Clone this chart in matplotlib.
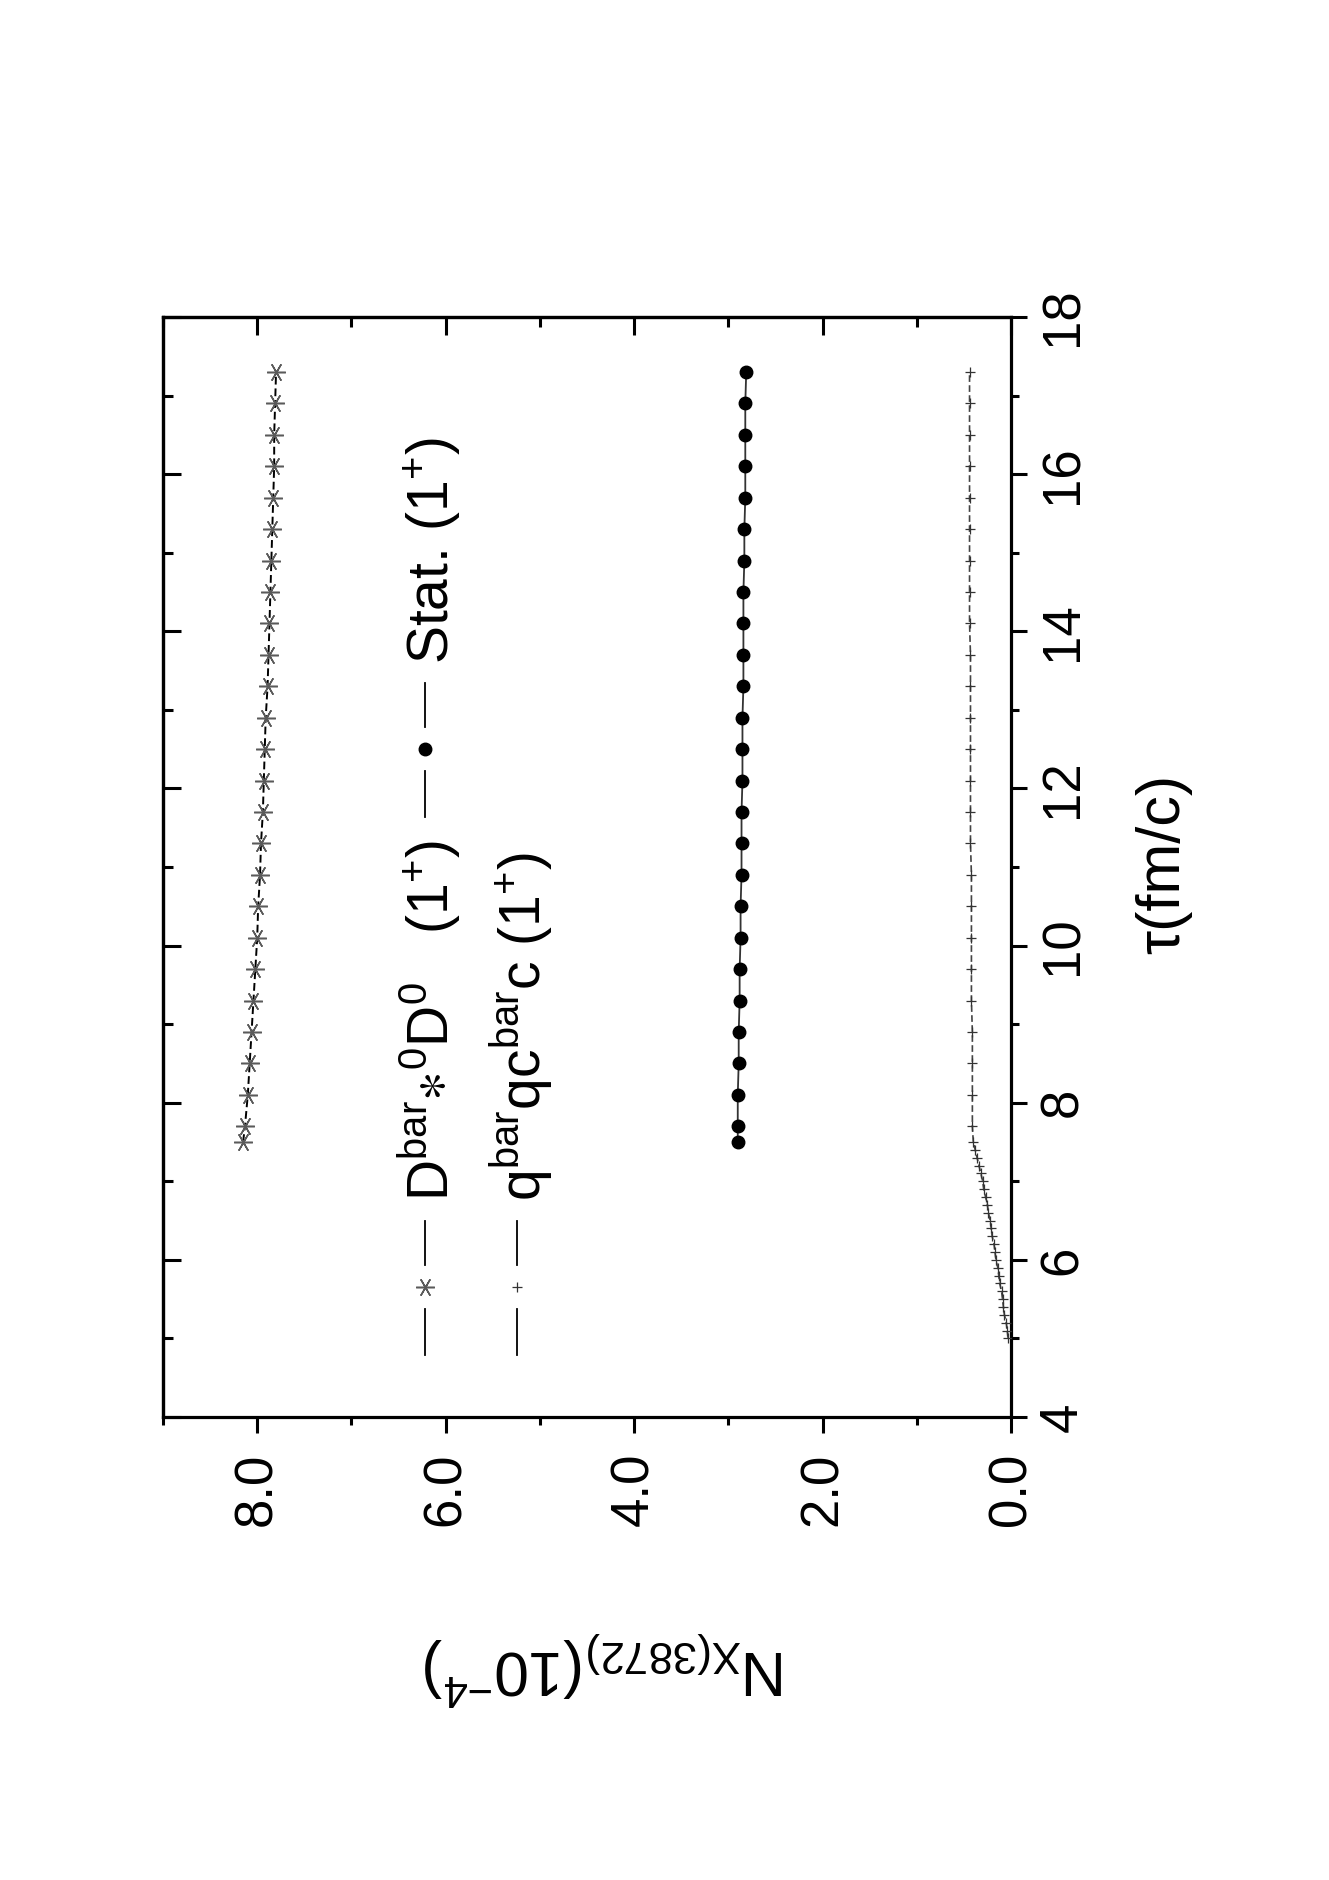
import matplotlib
matplotlib.use('Agg')
import matplotlib.pyplot as plt
from matplotlib.lines import Line2D
from matplotlib.ticker import MultipleLocator, FormatStrFormatter

plt.rcParams['font.family'] = ['Liberation Sans', 'DejaVu Sans']
plt.rcParams['mathtext.fontset'] = 'custom'
plt.rcParams['mathtext.rm'] = 'Liberation Sans'
plt.rcParams['mathtext.it'] = 'Liberation Sans:italic'
plt.rcParams['mathtext.bf'] = 'Liberation Sans:bold'
plt.rcParams['mathtext.default'] = 'regular'

# ---------------- data ----------------
tau_main = [7.5, 7.7, 8.1, 8.5, 8.9, 9.3, 9.7, 10.1, 10.5, 10.9, 11.3, 11.7, 12.1,
            12.5, 12.9, 13.3, 13.7, 14.1, 14.5, 14.9, 15.3, 15.7, 16.1, 16.5, 16.9, 17.3]
N_molecule = [8.15, 8.13, 8.10, 8.08, 8.06, 8.04, 8.02, 8.00, 7.99, 7.97, 7.96, 7.94, 7.93,
              7.92, 7.91, 7.89, 7.88, 7.87, 7.86, 7.85, 7.84, 7.83, 7.82, 7.82, 7.81, 7.80]
N_stat = [2.90, 2.90, 2.90, 2.89, 2.89, 2.88, 2.88, 2.87, 2.87, 2.86, 2.86, 2.86, 2.85,
          2.85, 2.85, 2.84, 2.84, 2.84, 2.84, 2.83, 2.83, 2.82, 2.82, 2.82, 2.82, 2.81]
tau_tetra = [5.0, 5.1, 5.2, 5.3, 5.4, 5.5, 5.6, 5.7, 5.8, 5.9, 6.0, 6.1, 6.2, 6.3, 6.4,
             6.5, 6.6, 6.7, 6.8, 6.9, 7.0, 7.1, 7.2, 7.3, 7.4, 7.5,
             7.7, 8.1, 8.5, 8.9, 9.3, 9.7, 10.1, 10.5, 10.9, 11.3, 11.7, 12.1,
             12.5, 12.9, 13.3, 13.7, 14.1, 14.5, 14.9, 15.3, 15.7, 16.1, 16.5, 16.9, 17.3]
N_tetra = [0.03, 0.04, 0.05, 0.07, 0.08, 0.09, 0.10, 0.12, 0.13, 0.14, 0.16, 0.17, 0.18,
           0.20, 0.21, 0.22, 0.24, 0.25, 0.27, 0.29, 0.30, 0.32, 0.34, 0.36, 0.38, 0.40,
           0.41, 0.41, 0.41, 0.41, 0.42, 0.42, 0.42, 0.42, 0.42, 0.43, 0.43, 0.43,
           0.43, 0.43, 0.43, 0.43, 0.44, 0.44, 0.44, 0.44, 0.44, 0.44, 0.44, 0.44, 0.44]

N_ticks = [0.0, 2.0, 4.0, 6.0, 8.0]
tau_ticks = [4, 6, 8, 10, 12, 14, 16, 18]

legend_labels = [r"D$^{bar}$$\ast$$^{0}$D$^{0}$   (1$^{+}$)",
                 r"q$^{bar}$qc$^{bar}$c (1$^{+}$)",
                 r"Stat. (1$^{+}$)"]

# ---------------- figure ----------------
W, H = 1329, 1880
fig = plt.figure(figsize=(W / 100, H / 100), dpi=100)
fig.patch.set_facecolor('white')

L, R, T, B = 163, 1011, 317, 1417
ax = fig.add_axes([L / W, 1 - B / H, (R - L) / W, (B - T) / H])
ax.set_xlim(9, 0)
ax.set_ylim(4, 18)

star_marker = (6, 2, 90)
star_style = dict(marker=star_marker, markersize=13.5, markeredgecolor='#5a5a5a',
                  markeredgewidth=1.1)
dot_style = dict(marker='o', markersize=9, markerfacecolor='black',
                 markeredgecolor='black')
plus_style = dict(marker='+', markersize=7.5, markeredgecolor='#333333',
                  markeredgewidth=0.9)

ax.plot(N_molecule, tau_main, linestyle=(0, (4, 2)), color='black', lw=1.4,
        zorder=3, **star_style)
ax.plot(N_stat, tau_main, linestyle='-', color='#333333', lw=1.3, zorder=3, **dot_style)
ax.plot(N_tetra, tau_tetra, linestyle=(0, (4, 2)), color='#444444', lw=1.2,
        zorder=3, **plus_style)

# spines
for s in ax.spines.values():
    s.set_linewidth(2.3)

# main ticks (bottom for N, right for tau), pointing out
ax.set_xticks(N_ticks)
ax.xaxis.set_minor_locator(MultipleLocator(1))
ax.xaxis.set_major_formatter(FormatStrFormatter('%.1f'))
ax.yaxis.tick_right()
ax.yaxis.set_label_position('right')
ax.set_yticks(tau_ticks)
ax.yaxis.set_minor_locator(MultipleLocator(1))
ax.set_xlim(9, 0)
ax.set_ylim(4, 18)
ax.tick_params(axis='both', which='major', direction='out', length=11.5, width=2.2,
               labelsize=38)
ax.tick_params(axis='both', which='minor', direction='out', length=6, width=2.2)
ax.tick_params(axis='x', which='major', pad=14, labelrotation=90)
ax.tick_params(axis='y', which='major', pad=8, labelrotation=90)
for lbl in ax.get_yticklabels():
    lbl.set_va('center')
for lbl in ax.get_xticklabels():
    lbl.set_ha('center')

# mirror ticks pointing in
secx = ax.secondary_xaxis('top')
secx.xaxis.set_major_locator(MultipleLocator(2))
secx.xaxis.set_minor_locator(MultipleLocator(1))
secx.tick_params(axis='x', which='major', direction='in', length=13, width=2.2,
                 labeltop=False, labelbottom=False)
secx.tick_params(axis='x', which='minor', direction='in', length=7, width=2.2)
secx.spines['top'].set_linewidth(2.3)
secy = ax.secondary_yaxis('left')
secy.yaxis.set_major_locator(MultipleLocator(2))
secy.yaxis.set_minor_locator(MultipleLocator(1))
secy.tick_params(axis='y', which='major', direction='in', length=13, width=2.2,
                 labelleft=False, labelright=False)
secy.tick_params(axis='y', which='minor', direction='in', length=7, width=2.2)
secy.spines['left'].set_linewidth(2.3)

# axis labels
ax.set_xlabel(r"N$_{X(3872)}$(10$^{-4}$)", fontsize=45, rotation=180,
              ha='center', va='center')
ax.xaxis.set_label_coords((605 - L) / (R - L), (B - 1668) / (B - T))
ax.set_ylabel("τ(fm/c)", fontsize=44, rotation=90, ha='center', va='center')
ax.yaxis.set_label_coords((1164 - L) / (R - L), (B - 864) / (B - T))

# ---------------- manual rotated legend ----------------
def fp(px, py):
    return px / W, 1 - py / H

entries = [
    # handle x, marker y, text baseline x, text start y, marker style
    (425, 1287, 448, 1201, dict(star_style, color='black')),
    (517, 1287, 540, 1201, dict(plus_style, color='#333333')),
    (425, 749, 448, 664, dict(dot_style, color='black')),
]
for (hx, my, tx, ty, st), lab in zip(entries, legend_labels):
    for y1, y2 in ((my + 22, my + 68), (my - 22, my - 66)):
        x0, f1 = fp(hx, y1)
        _, f2 = fp(hx, y2)
        fig.add_artist(Line2D([x0, x0], [f1, f2], transform=fig.transFigure,
                              color='black', lw=1.3))
    x0, f0 = fp(hx, my)
    fig.add_artist(Line2D([x0], [f0], transform=fig.transFigure, linestyle='none', **st))
    bx, by = fp(tx, ty)
    fig.text(bx, by, lab, rotation=90, rotation_mode='anchor', ha='left',
             va='baseline', fontsize=41)

fig.savefig('out.png', dpi=100, facecolor='white')
